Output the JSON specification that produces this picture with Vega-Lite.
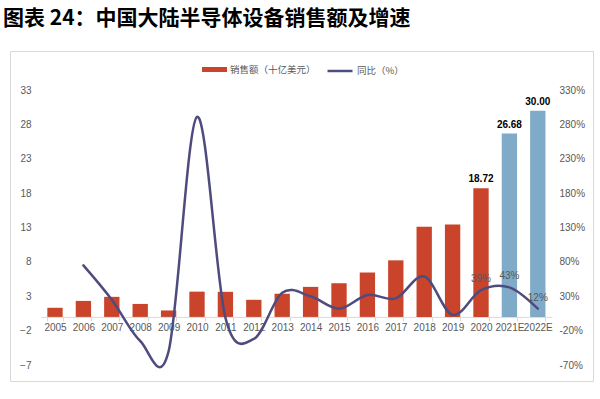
{
"$schema":"https://vega.github.io/schema/vega-lite/v6.json",
"width":583,"height":330,
"padding":{"left":3,"right":7,"top":8,"bottom":15},
"title":{"text":"图表 24：中国大陆半导体设备销售额及增速","anchor":"start","font":"Noto Sans CJK SC","fontSize":21,"fontWeight":"bold","color":"#000000","dx":-7,"offset":22},
"config":{"view":{"stroke":"#d9d9d9","strokeWidth":1},"axis":{"labelFont":"Liberation Sans","labelFontSize":10,"labelColor":"#595959","grid":false},"legend":{"labelFont":"Noto Sans CJK SC","labelFontSize":9.5,"labelColor":"#595959"}},
"data":{"values":[
{"year":"2005","sales":1.33,"yoy":null,"kind":"销售额（十亿美元）"},
{"year":"2006","sales":2.33,"yoy":75,"kind":"销售额（十亿美元）"},
{"year":"2007","sales":2.92,"yoy":25,"kind":"销售额（十亿美元）"},
{"year":"2008","sales":1.89,"yoy":-35,"kind":"销售额（十亿美元）"},
{"year":"2009","sales":0.94,"yoy":-50,"kind":"销售额（十亿美元）"},
{"year":"2010","sales":3.68,"yoy":291,"kind":"销售额（十亿美元）"},
{"year":"2011","sales":3.65,"yoy":-1,"kind":"销售额（十亿美元）"},
{"year":"2012","sales":2.49,"yoy":-32,"kind":"销售额（十亿美元）"},
{"year":"2013","sales":3.37,"yoy":35,"kind":"销售额（十亿美元）"},
{"year":"2014","sales":4.37,"yoy":30,"kind":"销售额（十亿美元）"},
{"year":"2015","sales":4.90,"yoy":12,"kind":"销售额（十亿美元）"},
{"year":"2016","sales":6.46,"yoy":32,"kind":"销售额（十亿美元）"},
{"year":"2017","sales":8.23,"yoy":27,"kind":"销售额（十亿美元）"},
{"year":"2018","sales":13.11,"yoy":59,"kind":"销售额（十亿美元）"},
{"year":"2019","sales":13.45,"yoy":3,"kind":"销售额（十亿美元）"},
{"year":"2020","sales":18.72,"yoy":39,"kind":"销售额（十亿美元）","lab":1,"pct":"39%"},
{"year":"2021E","sales":26.68,"yoy":43,"kind":"预测","lab":1,"pct":"43%"},
{"year":"2022E","sales":30.00,"yoy":12,"kind":"预测","lab":1,"pct":"12%"}
]},
"encoding":{"x":{"field":"year","type":"ordinal","sort":null,"scale":{"domain":["2005","2006","2007","2008","2009","2010","2011","2012","2013","2014","2015","2016","2017","2018","2019","2020","2021E","2022E"],"range":[30.8,542],"paddingInner":0.46,"paddingOuter":0.23},"axis":{"orient":"bottom","offset":-64.1,"labelAngle":0,"domain":true,"domainColor":"#d9d9d9","ticks":true,"tickBand":"extent","tickColor":"#d9d9d9","tickSize":4,"labelPadding":2,"labelOverlap":false,"title":null}}},
"layer":[
 {"layer":[
  {"mark":{"type":"bar"},"encoding":{
    "y":{"field":"sales","type":"quantitative","scale":{"domain":[-9.32,38.68],"nice":false,"zero":false},"axis":{"orient":"left","offset":-22,"values":[-7,-2,3,8,13,18,23,28,33],"domain":false,"ticks":false,"labelPadding":1,"title":null}},
    "color":{"field":"kind","type":"nominal","scale":{"domain":["销售额（十亿美元）","预测"],"range":["#C9442B","#7FAAC8"]},"legend":{"orient":"none","legendX":192,"legendY":6,"values":["销售额（十亿美元）"],"symbolType":"M-1,-0.2L1,-0.2L1,0.2L-1,0.2Z","symbolSize":625,"symbolStrokeWidth":0,"labelOffset":3,"title":null}}}},
  {"transform":[{"filter":"datum.lab == 1"}],"mark":{"type":"text","fontWeight":"bold","font":"Liberation Sans","fontSize":10,"color":"#000000","baseline":"alphabetic","dy":-6},"encoding":{"y":{"field":"sales","type":"quantitative"},"text":{"field":"sales","format":".2f"}}}
 ]},
 {"layer":[
  {"mark":{"type":"line","interpolate":"cardinal","strokeWidth":2.5,"strokeCap":"round"},"encoding":{
    "y":{"field":"yoy","type":"quantitative","scale":{"domain":[-93.2,386.8],"nice":false,"zero":false},"axis":{"orient":"right","offset":-35,"values":[-70,-20,30,80,130,180,230,280,330],"labelExpr":"datum.value + '%'","domain":false,"ticks":false,"labelPadding":1,"title":null}},
    "stroke":{"datum":"同比（%）","type":"nominal","scale":{"range":["#4E4B7E"]},"legend":{"orient":"none","legendX":316,"legendY":6,"symbolType":"stroke","symbolSize":625,"symbolStrokeWidth":2.5,"labelOffset":3,"title":null}}}},
  {"transform":[{"filter":"datum.lab == 1"}],"mark":{"type":"text","font":"Liberation Sans","fontSize":10,"color":"#595959","baseline":"alphabetic","dy":-8},"encoding":{"y":{"field":"yoy","type":"quantitative"},"text":{"field":"pct"}}}
 ]}
],
"resolve":{"scale":{"y":"independent"}}
}
